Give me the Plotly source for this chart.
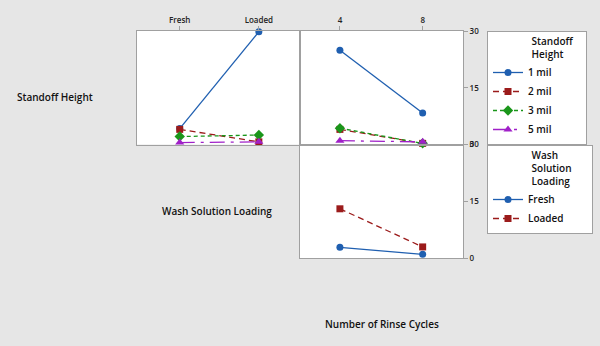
import plotly.graph_objects as go

# ---- data ----
wash_levels = ["Fresh", "Loaded"]
rinse_levels = [4, 8]
standoff_levels = ["1 mil", "2 mil", "3 mil", "5 mil"]

# Standoff Height lines vs Wash Solution Loading (panel 1)
sh_wash_1mil = [4.2, 29.8]
sh_wash_2mil = [4.0, 0.7]
sh_wash_3mil = [2.1, 2.5]
sh_wash_5mil = [0.5, 0.7]

# Standoff Height lines vs Number of Rinse Cycles (panel 2)
sh_rinse_1mil = [24.9, 8.3]
sh_rinse_2mil = [4.0, 0.3]
sh_rinse_3mil = [4.3, 0.3]
sh_rinse_5mil = [1.0, 0.7]

# Wash Solution Loading lines vs Number of Rinse Cycles (panel 3)
wash_labels = ["Fresh", "Loaded"]
wl_rinse_fresh = [2.9, 1.05]
wl_rinse_loaded = [13.05, 3.0]

y_ticks = [0, 15, 30]

# ---- styles ----
sh_styles = [
    dict(color="#1f5fb0", dash="solid", symbol="circle", size=7),
    dict(color="#9b1b1b", dash="6px,4px", symbol="square", size=7),
    dict(color="#1a961a", dash="4px,3px", symbol="diamond", size=8),
    dict(color="#a020c8", dash="longdashdot", symbol="triangle-up", size=8),
]
wl_styles = [sh_styles[0], sh_styles[1]]

NB = "\u00a0"


def padname(s, width):
    return s + NB * max(0, width - len(s))


fig = go.Figure()

sh_wash = [sh_wash_1mil, sh_wash_2mil, sh_wash_3mil, sh_wash_5mil]
sh_rinse = [sh_rinse_1mil, sh_rinse_2mil, sh_rinse_3mil, sh_rinse_5mil]

for name, vals, st in zip(standoff_levels, sh_wash, sh_styles):
    fig.add_trace(go.Scatter(
        x=wash_levels, y=vals, name=padname(name, 16), legendgroup=name, legend="legend",
        mode="lines+markers", cliponaxis=False,
        line=dict(color=st["color"], dash=st["dash"], width=1.3),
        marker=dict(color=st["color"], symbol=st["symbol"], size=st["size"]),
        xaxis="x", yaxis="y", showlegend=True))

for name, vals, st in zip(standoff_levels, sh_rinse, sh_styles):
    fig.add_trace(go.Scatter(
        x=rinse_levels, y=vals, name=name, legendgroup=name, legend="legend",
        mode="lines+markers", cliponaxis=False,
        line=dict(color=st["color"], dash=st["dash"], width=1.3),
        marker=dict(color=st["color"], symbol=st["symbol"], size=st["size"]),
        xaxis="x2", yaxis="y2", showlegend=False))

for name, vals, st in zip(wash_labels, [wl_rinse_fresh, wl_rinse_loaded], wl_styles):
    fig.add_trace(go.Scatter(
        x=rinse_levels, y=vals, name=padname(name, 15), legend="legend2",
        mode="lines+markers", cliponaxis=False,
        line=dict(color=st["color"], dash=st["dash"], width=1.3),
        marker=dict(color=st["color"], symbol=st["symbol"], size=st["size"]),
        xaxis="x3", yaxis="y3", showlegend=True))

FONT = "Open Sans"
frame = "#a0a0a0"
tickfont = dict(family=FONT, size=8, color="#222222", weight=600)

common = dict(showline=True, mirror=True, linecolor=frame, linewidth=1,
              showgrid=False, zeroline=False, tickcolor=frame, ticklen=4,
              tickfont=tickfont, automargin=False)

x_dom1 = [137 / 600, 300 / 600]
x_dom2 = [300 / 600, 463 / 600]
y_dom_top = [1 - 144.5 / 346, 1 - 31 / 346]
y_dom_bot = [1 - 258.3 / 346, 1 - 144.5 / 346]

pad = NB * 16

fig.update_layout(
    width=600, height=346,
    margin=dict(l=0, r=0, t=0, b=0, autoexpand=False),
    paper_bgcolor="#e6e6e6", plot_bgcolor="white",
    xaxis=dict(domain=x_dom1, anchor="y", side="top", type="category",
               range=[-0.54, 1.52], ticks="outside", **common),
    yaxis=dict(domain=y_dom_top, anchor="x", range=[0, 30],
               showticklabels=False, ticks="", **common),
    xaxis2=dict(domain=x_dom2, anchor="y2", side="top", range=[2.07, 9.95],
                tickvals=rinse_levels, ticktext=[str(v) for v in rinse_levels],
                ticks="outside", **common),
    yaxis2=dict(domain=y_dom_top, anchor="x2", side="right", range=[0, 30],
                tickvals=y_ticks, ticks="outside", **common),
    xaxis3=dict(domain=x_dom2, anchor="y3", range=[2.07, 9.95],
                showticklabels=False, ticks="", **common),
    yaxis3=dict(domain=y_dom_bot, anchor="x3", side="right", range=[0, 30],
                tickvals=y_ticks, ticks="outside", **common),
    legend=dict(x=487 / 600, y=1 - 31 / 346, xanchor="left", yanchor="top",
                bgcolor="white", bordercolor=frame, borderwidth=1,
                font=dict(family=FONT, size=10, color="#111111", weight=600),
                title=dict(text=pad + "Standoff<br>" + pad + "Height",
                           font=dict(family=FONT, size=10, color="#111111", weight=600)),
                tracegroupgap=0),
    legend2=dict(x=487 / 600, y=1 - 145 / 346, xanchor="left", yanchor="top",
                 bgcolor="white", bordercolor=frame, borderwidth=1,
                 font=dict(family=FONT, size=10, color="#111111", weight=600),
                 title=dict(text=pad + "Wash<br>" + pad + "Solution<br>" + pad + "Loading",
                            font=dict(family=FONT, size=10, color="#111111", weight=600))),
    showlegend=True,
)

lab_font = dict(family=FONT, size=10, color="#111111", weight=600)
fig.add_annotation(text="Standoff Height", xref="paper", yref="paper",
                   x=15 / 600, y=1 - 97 / 346, xanchor="left", yanchor="middle",
                   showarrow=False, font=lab_font)
fig.add_annotation(text="Wash Solution Loading", xref="paper", yref="paper",
                   x=217 / 600, y=1 - 211 / 346, xanchor="center", yanchor="middle",
                   showarrow=False, font=lab_font)
fig.add_annotation(text="Number of Rinse Cycles", xref="paper", yref="paper",
                   x=382 / 600, y=1 - 324 / 346, xanchor="center", yanchor="middle",
                   showarrow=False, font=lab_font)

fig.write_html("out.html")
